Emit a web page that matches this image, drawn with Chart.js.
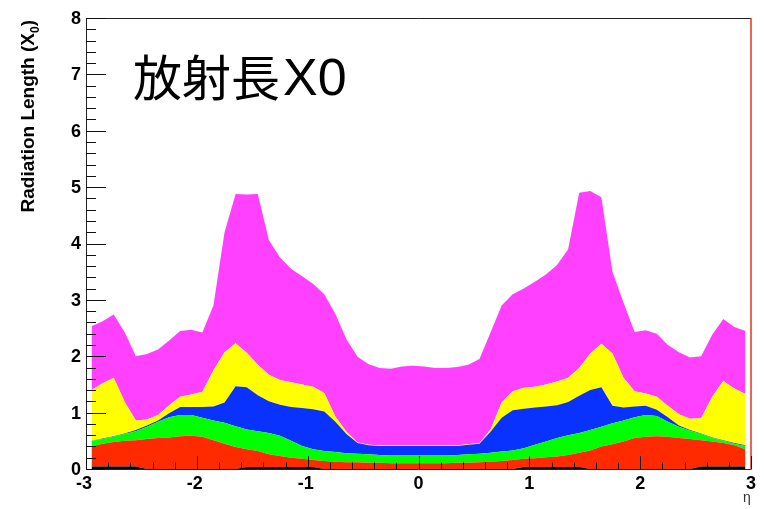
<!DOCTYPE html>
<html>
<head>
<meta charset="utf-8">
<script src="https://cdn.jsdelivr.net/npm/chart.js@4/dist/chart.umd.min.js"></script>
<style>
  html, body { margin: 0; padding: 0; background: #fff; }
  #wrap { width: 764px; height: 509px; }
</style>
</head>
<body>
<div id="wrap"><canvas id="c" width="764" height="509"></canvas></div>
<script>
// Pseudorapidity bin centres (0.1 wide bins, -3 .. 3)
const eta = [
  -2.95, -2.85, -2.75, -2.65, -2.55, -2.45, -2.35, -2.25, -2.15, -2.05,
  -1.95, -1.85, -1.75, -1.65, -1.55, -1.45, -1.35, -1.25, -1.15, -1.05,
  -0.95, -0.85, -0.75, -0.65, -0.55, -0.45, -0.35, -0.25, -0.15, -0.05,
   0.05,  0.15,  0.25,  0.35,  0.45,  0.55,  0.65,  0.75,  0.85,  0.95,
   1.05,  1.15,  1.25,  1.35,  1.45,  1.55,  1.65,  1.75,  1.85,  1.95,
   2.05,  2.15,  2.25,  2.35,  2.45,  2.55,  2.65,  2.75,  2.85,  2.95
];

// Cumulative radiation length (X0) at the top of each stacked layer, bottom to top
const blackTop = [
  0.045, 0.045, 0.045, 0.045, 0.045, 0, 0, 0, 0, 0,
  0, 0, 0, 0, 0.035, 0.035, 0.035, 0.035, 0.035, 0.035,
  0.035, 0, 0, 0, 0, 0, 0, 0, 0, 0,
  0, 0, 0, 0, 0, 0, 0, 0, 0, 0.035,
  0.035, 0.035, 0.035, 0.035, 0.035, 0, 0, 0, 0, 0,
  0, 0, 0, 0, 0, 0.045, 0.045, 0.045, 0.045, 0.045
];
const redTop = [
  0.40, 0.45, 0.48, 0.50, 0.51, 0.53, 0.55, 0.56, 0.58, 0.59,
  0.57, 0.51, 0.45, 0.39, 0.35, 0.32, 0.26, 0.23, 0.20, 0.18,
  0.16, 0.14, 0.13, 0.12, 0.12, 0.11, 0.11, 0.10, 0.10, 0.10,
  0.10, 0.10, 0.10, 0.11, 0.11, 0.12, 0.13, 0.14, 0.16, 0.18,
  0.19, 0.21, 0.22, 0.25, 0.29, 0.33, 0.40, 0.44, 0.49, 0.55,
  0.57, 0.58, 0.57, 0.55, 0.53, 0.51, 0.49, 0.46, 0.42, 0.35
];
const greenTop = [
  0.50, 0.53, 0.57, 0.62, 0.67, 0.75, 0.84, 0.92, 0.96, 0.96,
  0.91, 0.86, 0.82, 0.76, 0.70, 0.67, 0.64, 0.59, 0.50, 0.41,
  0.35, 0.32, 0.30, 0.28, 0.27, 0.26, 0.25, 0.24, 0.24, 0.24,
  0.24, 0.24, 0.24, 0.25, 0.26, 0.27, 0.29, 0.31, 0.33, 0.37,
  0.43, 0.49, 0.55, 0.60, 0.64, 0.69, 0.75, 0.81, 0.86, 0.92,
  0.96, 0.94, 0.84, 0.75, 0.68, 0.62, 0.55, 0.50, 0.45, 0.41
];
const blueTop = [
  0.50, 0.54, 0.58, 0.63, 0.69, 0.77, 0.86, 0.99, 1.10, 1.10,
  1.10, 1.11, 1.18, 1.47, 1.45, 1.31, 1.20, 1.14, 1.10, 1.08,
  1.06, 1.02, 0.84, 0.62, 0.46, 0.42, 0.41, 0.41, 0.41, 0.41,
  0.41, 0.41, 0.41, 0.41, 0.43, 0.45, 0.66, 0.91, 1.04, 1.07,
  1.09, 1.11, 1.13, 1.19, 1.30, 1.40, 1.45, 1.12, 1.09, 1.11,
  1.12, 1.05, 0.92, 0.77, 0.69, 0.63, 0.56, 0.51, 0.46, 0.42
];
const yellowTop = [
  1.40, 1.52, 1.62, 1.19, 0.86, 0.88, 0.96, 1.13, 1.28, 1.32,
  1.37, 1.75, 2.07, 2.23, 2.06, 1.85, 1.67, 1.58, 1.54, 1.50,
  1.46, 1.35, 0.93, 0.66, 0.47, 0.43, 0.42, 0.42, 0.42, 0.42,
  0.42, 0.42, 0.42, 0.42, 0.44, 0.46, 0.70, 1.18, 1.38, 1.44,
  1.46, 1.50, 1.55, 1.62, 1.79, 2.05, 2.22, 2.05, 1.62, 1.38,
  1.34, 1.28, 1.12, 0.97, 0.89, 0.90, 1.28, 1.56, 1.43, 1.33
];
const magentaTop = [
  2.53, 2.62, 2.74, 2.42, 2.00, 2.04, 2.12, 2.28, 2.45, 2.47,
  2.42, 2.90, 4.20, 4.88, 4.87, 4.88, 4.06, 3.75, 3.55, 3.42,
  3.28, 3.10, 2.75, 2.30, 1.99, 1.86, 1.79, 1.78, 1.82, 1.83,
  1.82, 1.79, 1.79, 1.81, 1.85, 1.95, 2.42, 2.90, 3.10, 3.20,
  3.32, 3.45, 3.62, 3.90, 4.90, 4.93, 4.82, 3.50, 2.95, 2.43,
  2.46, 2.40, 2.20, 2.07, 1.98, 2.00, 2.38, 2.66, 2.52, 2.45
];

// Axis tick values and labels
const xTickValues = [-3, -2, -1, 0, 1, 2, 3];
const xTickLabels = ['-3', '-2', '-1', '0', '1', '2', '3'];
const yTickValues = [0, 1, 2, 3, 4, 5, 6, 7, 8];
const yTickLabels = ['0', '1', '2', '3', '4', '5', '6', '7', '8'];

const layers = [
  { top: blackTop,   color: '#000000' },
  { top: redTop,     color: '#ff2a00' },
  { top: greenTop,   color: '#00ff00' },
  { top: blueTop,    color: '#0a32ff' },
  { top: yellowTop,  color: '#ffff00' },
  { top: magentaTop, color: '#ff40ff' }
];

const datasets = layers.map((l, i) => ({
  data: eta.map((e, k) => ({ x: e, y: l.top[k] })),
  backgroundColor: l.color,
  borderWidth: 0,
  pointRadius: 0,
  fill: i === 0 ? 'origin' : '-1',
  tension: 0
}));

// ROOT-style frame, inward ticks, labels and annotation
const rootAxes = {
  id: 'rootAxes',
  afterDatasetsDraw(chart) {
    const { ctx, chartArea: a, scales: { x, y } } = chart;
    ctx.save();

    // frame
    ctx.strokeStyle = '#222';
    ctx.lineWidth = 1;
    ctx.beginPath();
    ctx.moveTo(a.left + 0.5, a.bottom + 0.5);
    ctx.lineTo(a.left + 0.5, a.top + 0.5);
    ctx.lineTo(a.right, a.top + 0.5);
    ctx.moveTo(a.left, a.bottom + 0.5);
    ctx.lineTo(a.right, a.bottom + 0.5);
    ctx.stroke();
    ctx.strokeStyle = '#e8301a';
    ctx.lineWidth = 1.5;
    ctx.beginPath();
    ctx.moveTo(a.right, a.top);
    ctx.lineTo(a.right, a.bottom + 1);
    ctx.stroke();

    // y ticks (major every 1, minor every 0.2)
    ctx.strokeStyle = '#111';
    ctx.lineWidth = 1;
    ctx.beginPath();
    for (let k = 0; k <= 40; k++) {
      const v = k * 0.2;
      const py = Math.round(y.getPixelForValue(v)) + 0.5;
      const len = (k % 5 === 0) ? 20 : 10;
      ctx.moveTo(a.left, py);
      ctx.lineTo(a.left + len, py);
    }
    // x ticks
    for (let k = 0; k <= 30; k++) {
      const v = -3 + k * 0.2;
      const px = Math.round(x.getPixelForValue(v)) + 0.5;
      const len = (k % 5 === 0) ? 13 : 6.5;
      ctx.moveTo(px, a.bottom);
      ctx.lineTo(px, a.bottom - len);
    }
    ctx.stroke();

    // tick labels
    ctx.fillStyle = '#000';
    ctx.font = 'bold 18px "Liberation Sans", Arial, sans-serif';
    ctx.textAlign = 'right';
    ctx.textBaseline = 'middle';
    yTickValues.forEach((v, i) => {
      ctx.fillText(yTickLabels[i], a.left - 5, y.getPixelForValue(v) + 1);
    });
    ctx.textAlign = 'center';
    ctx.textBaseline = 'top';
    xTickValues.forEach((v, i) => {
      ctx.fillText(xTickLabels[i], x.getPixelForValue(v) + (v < 0 ? -2 : 0), a.bottom + 6);
    });

    // axis titles
    ctx.font = '14px "Liberation Sans", Arial, sans-serif';
    ctx.fillStyle = '#333';
    ctx.textAlign = 'center';
    ctx.textBaseline = 'alphabetic';
    ctx.fillText('\u03b7', 747, 502);

    const main = 'Radiation Length (X';
    const sub = '0';
    const tail = ')';
    const bigFont = 'bold 19px "Liberation Sans", Arial, sans-serif';
    const subFont = 'bold 12px "Liberation Sans", Arial, sans-serif';
    ctx.font = bigFont;
    const w1 = ctx.measureText(main).width;
    const w3 = ctx.measureText(tail).width;
    ctx.font = subFont;
    const w2 = ctx.measureText(sub).width;
    const total = w1 + w2 + w3;
    ctx.translate(34, 20 + total);
    ctx.rotate(-Math.PI / 2);
    ctx.fillStyle = '#000';
    ctx.textAlign = 'left';
    ctx.font = bigFont;
    ctx.fillText(main, 0, 0);
    ctx.font = subFont;
    ctx.fillText(sub, w1, 5);
    ctx.font = bigFont;
    ctx.fillText(tail, w1 + w2, 0);
    ctx.setTransform(1, 0, 0, 1, 0, 0);

    // annotation
    ctx.fillStyle = '#000';
    ctx.textAlign = 'left';
    ctx.textBaseline = 'alphabetic';
    ctx.font = '49px "Noto Sans CJK JP", sans-serif';
    const jp = '放射長';
    ctx.fillText(jp, 133, 96);
    const jw = ctx.measureText(jp).width;
    ctx.font = '52px "Liberation Sans", Arial, sans-serif';
    ctx.fillText('X0', 133 + jw + 3, 95);

    ctx.restore();
  }
};

new Chart(document.getElementById('c'), {
  type: 'line',
  data: { datasets },
  options: {
    responsive: false,
    animation: false,
    devicePixelRatio: 1,
    layout: { padding: { left: 86, right: 13, top: 18, bottom: 40 } },
    plugins: {
      legend: { display: false },
      tooltip: { enabled: false },
      title: { display: false },
      filler: { propagate: false }
    },
    scales: {
      x: { type: 'linear', min: -3, max: 3, display: false },
      y: { min: 0, max: 8, display: false }
    }
  },
  plugins: [rootAxes]
});
</script>
</body>
</html>
